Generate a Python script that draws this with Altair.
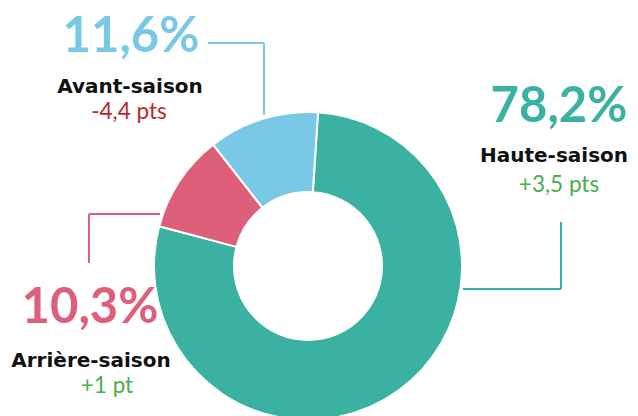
import math
import altair as alt
import pandas as pd

# ---- data ----
categories = ["Haute-saison", "Arrière-saison", "Avant-saison"]
shares = [78.2, 10.3, 11.6]
pct_labels = ["78,2%", "10,3%", "11,6%"]
deltas = ["+3,5 pts", "+1 pt", "-4,4 pts"]

# ---- styles ----
slice_colors = ["#3bb1a1", "#de5f7a", "#79c9e6"]
delta_colors = ["#4cae4c", "#4cae4c", "#b8282d"]

OFF = 8  # page margin
def px(v):
    return v - OFF

cx, cy = px(308), px(266)
start = 0.065

slices = pd.DataFrame({
    "cat": categories,
    "share": shares,
    "ord": [0, 1, 2],
    "color": slice_colors,
})

arc = alt.Chart(slices).mark_arc(
    innerRadius=74, outerRadius=154, stroke="white", strokeWidth=2
).encode(
    theta=alt.Theta("share:Q", stack=True,
                    scale=alt.Scale(range=[start, start + 2 * math.pi])),
    order=alt.Order("ord:Q"),
    color=alt.Color("color:N", scale=None),
    x=alt.value(cx),
    y=alt.value(cy),
)

# label layout (page coordinates)
pct_pos = [(559, 122), (90, 323), (131, 52)]
name_pos = [(554, 162), (91, 367), (130, 93)]
delta_pos = [(559, 192), (107, 393), (129, 119)]

pct_df = pd.DataFrame({
    "t": pct_labels, "c": slice_colors,
    "x": [px(p[0]) for p in pct_pos], "y": [px(p[1]) for p in pct_pos]})
name_df = pd.DataFrame({
    "t": categories,
    "x": [px(p[0]) for p in name_pos], "y": [px(p[1]) for p in name_pos]})
delta_df = pd.DataFrame({
    "t": deltas, "c": delta_colors,
    "x": [px(p[0]) for p in delta_pos], "y": [px(p[1]) for p in delta_pos]})

pct_text = alt.Chart(pct_df).mark_text(
    font="Lato", fontSize=49, fontWeight="bold", align="center", baseline="alphabetic"
).encode(x=alt.X("x:Q", scale=None), y=alt.Y("y:Q", scale=None),
         text="t:N", color=alt.Color("c:N", scale=None))

name_text = alt.Chart(name_df).mark_text(
    font="DejaVu Sans", fontSize=20, fontWeight="bold", align="center", baseline="alphabetic",
    color="#111111"
).encode(x=alt.X("x:Q", scale=None), y=alt.Y("y:Q", scale=None), text="t:N")

delta_text = alt.Chart(delta_df).mark_text(
    font="Lato", fontSize=22.5, align="center", baseline="alphabetic"
).encode(x=alt.X("x:Q", scale=None), y=alt.Y("y:Q", scale=None),
         text="t:N", color=alt.Color("c:N", scale=None))

# connector segments (page coordinates)
segs = [
    (208, 43, 264, 43, slice_colors[2]),
    (264, 43, 264, 115, slice_colors[2]),
    (561, 222, 561, 289, slice_colors[0]),
    (463, 289, 561, 289, slice_colors[0]),
    (89, 214, 89, 263, slice_colors[1]),
    (89, 214, 160, 214, slice_colors[1]),
]
seg_df = pd.DataFrame({
    "x": [px(s[0]) for s in segs], "y": [px(s[1]) for s in segs],
    "x2": [px(s[2]) for s in segs], "y2": [px(s[3]) for s in segs],
    "c": [s[4] for s in segs]})

rules = alt.Chart(seg_df).mark_rule(strokeWidth=2).encode(
    x=alt.X("x:Q", scale=None), y=alt.Y("y:Q", scale=None),
    x2="x2:Q", y2="y2:Q", color=alt.Color("c:N", scale=None))

chart = alt.layer(rules, arc, pct_text, name_text, delta_text).properties(
    width=622, height=420, padding=0, autosize="none"
).configure_view(stroke=None)

chart.save("out.html", embed_options={"renderer": "svg", "actions": False})
